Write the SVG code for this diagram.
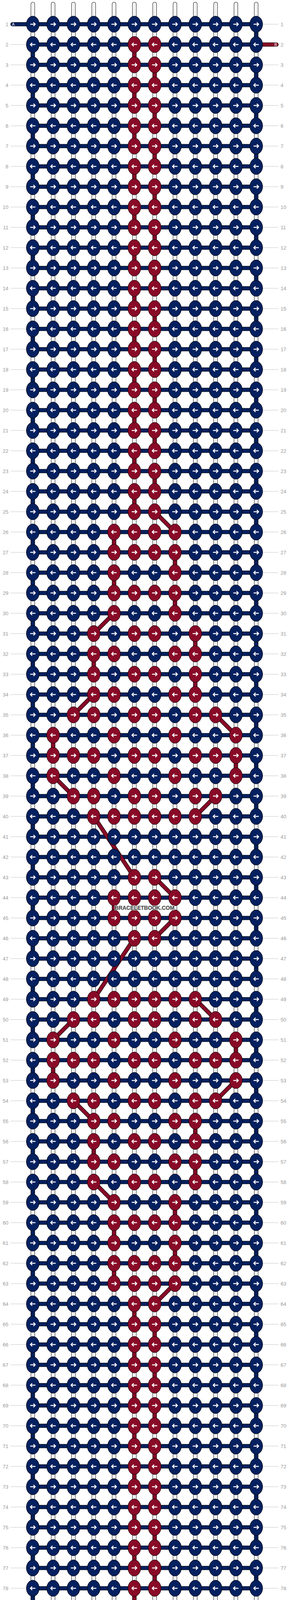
<svg xmlns="http://www.w3.org/2000/svg" width="740" height="4648" viewBox="0 0 740 4648">
<style>
.n{fill:#05205f}
.m{fill:#880a27}
.o{stroke:#000;stroke-width:10.6;fill:none;stroke-linecap:round}
.fn{stroke:#05205f;stroke-width:8.6;fill:none;stroke-linecap:round}
.fm{stroke:#880a27;stroke-width:8.6;fill:none;stroke-linecap:round}
.fw{stroke:#fff;stroke-width:8.6;fill:none;stroke-linecap:round}
.lb{font-family:"Liberation Sans",Arial,sans-serif;font-size:13px;fill:#999}
.le{text-anchor:end}
.tg{font-family:"Liberation Sans",Arial,sans-serif;font-size:10.5px;fill:#fff}
</style>
<defs>
<g id="R"><ellipse rx="16.5" ry="20.8" stroke="#000" stroke-width="1"/><path d="M-6.7,0H5.6M1.6,-4.6L6.2,0L1.6,4.6" fill="none" stroke="#fff" stroke-width="2.3"/></g>
<g id="L"><ellipse rx="16.5" ry="20.8" stroke="#000" stroke-width="1"/><path d="M6.7,0H-5.6M-1.6,-4.6L-6.2,0L-1.6,4.6" fill="none" stroke="#fff" stroke-width="2.3"/></g>
<path id="wp" d="M84,10.3V4637.7M136,10.3V4637.7M188,10.3V4637.7M240,10.3V4637.7M292,10.3V4637.7M344,10.3V4637.7M396,10.3V4637.7M448,10.3V4637.7M500,10.3V4637.7M552,10.3V4637.7M604,10.3V4637.7M656,10.3V4637.7"/>
<g id="va"><path d="M84,114V4586" stroke-dasharray="52 52"/><path d="M656,62V4586" stroke-dasharray="52 52"/></g>
<g id="vb"><path d="M344,114V1310" stroke-dasharray="52 52"/><path d="M396,166V1258" stroke-dasharray="52 52"/><path d="M344,3338V4534" stroke-dasharray="52 52"/><path d="M396,3390V4482" stroke-dasharray="52 52"/><path d="M292,1362V1414M448,1414V1466M292,1466V1518M448,1518V1570M500,1622V1674M240,1674V1726M500,1726V1778M136,1882V1934M604,1934V1986M292,2298V2350M604,2662V2714M136,2714V2766M500,2870V2922M240,2922V2974M500,2974V3026M448,3078V3130M292,3130V3182M448,3182V3234M292,3234V3286"/></g>
<path id="hz" d="M32,62H656M84,114H656M84,166H656M84,218H656M84,270H656M84,322H656M84,374H656M84,426H656M84,478H656M84,530H656M84,582H656M84,634H656M84,686H656M84,738H656M84,790H656M84,842H656M84,894H656M84,946H656M84,998H656M84,1050H656M84,1102H656M84,1154H656M84,1206H656M84,1258H656M84,1310H656M84,1362H656M84,1414H656M84,1466H656M84,1518H656M84,1570H656M84,1622H656M84,1674H656M84,1726H656M84,1778H656M84,1830H656M84,1882H656M84,1934H656M84,1986H656M84,2038H656M84,2090H656M84,2142H656M84,2194H656M84,2246H656M84,2298H656M84,2350H656M84,2402H656M84,2454H656M84,2506H656M84,2558H656M84,2610H656M84,2662H656M84,2714H656M84,2766H656M84,2818H656M84,2870H656M84,2922H656M84,2974H656M84,3026H656M84,3078H656M84,3130H656M84,3182H656M84,3234H656M84,3286H656M84,3338H656M84,3390H656M84,3442H656M84,3494H656M84,3546H656M84,3598H656M84,3650H656M84,3702H656M84,3754H656M84,3806H656M84,3858H656M84,3910H656M84,3962H656M84,4014H656M84,4066H656M84,4118H656M84,4170H656M84,4222H656M84,4274H656M84,4326H656M84,4378H656M84,4430H656M84,4482H656M84,4534H656M32,4586H656"/>
<path id="bt" d="M656,114H708M656,4534H708"/>
<path id="dg" d="M396,1310L448,1362M292,1570L240,1622M240,1778L188,1830M552,1830L604,1882M136,1986L188,2038M552,2038L500,2090M240,2090L344,2246M396,2246L448,2298M448,2350L396,2402M344,2402L240,2558M500,2558L552,2610M188,2610L136,2662M604,2766L552,2818M188,2818L240,2870M240,3026L292,3078M448,3286L396,3338"/>
</defs>
<rect width="740" height="4648" fill="#fff"/>
<g id="connectors">
<path d="M27,62H713M27,114H713M27,166H713M27,218H713M27,270H713M27,322H713M27,374H713M27,426H713M27,478H713M27,530H713M27,582H713M27,634H713M27,686H713M27,738H713M27,790H713M27,842H713M27,894H713M27,946H713M27,998H713M27,1050H713M27,1102H713M27,1154H713M27,1206H713M27,1258H713M27,1310H713M27,1362H713M27,1414H713M27,1466H713M27,1518H713M27,1570H713M27,1622H713M27,1674H713M27,1726H713M27,1778H713M27,1830H713M27,1882H713M27,1934H713M27,1986H713M27,2038H713M27,2090H713M27,2142H713M27,2194H713M27,2246H713M27,2298H713M27,2350H713M27,2402H713M27,2454H713M27,2506H713M27,2558H713M27,2610H713M27,2662H713M27,2714H713M27,2766H713M27,2818H713M27,2870H713M27,2922H713M27,2974H713M27,3026H713M27,3078H713M27,3130H713M27,3182H713M27,3234H713M27,3286H713M27,3338H713M27,3390H713M27,3442H713M27,3494H713M27,3546H713M27,3598H713M27,3650H713M27,3702H713M27,3754H713M27,3806H713M27,3858H713M27,3910H713M27,3962H713M27,4014H713M27,4066H713M27,4118H713M27,4170H713M27,4222H713M27,4274H713M27,4326H713M27,4378H713M27,4430H713M27,4482H713M27,4534H713M27,4586H713" stroke="#c4c4c4" stroke-width="1" fill="none"/>
<use href="#wp" class="o"/><use href="#wp" class="fw"/>
<path d="M84,9V4639M136,9V4639M188,9V4639M240,9V4639M292,9V4639M344,9V4639M396,9V4639M448,9V4639M500,9V4639M552,9V4639M604,9V4639M656,9V4639" stroke="#c8c8c8" stroke-width="1" fill="none"/>
<use href="#va" class="o"/><use href="#va" class="fn"/>
<use href="#vb" class="o"/><use href="#vb" class="fm"/>
<use href="#hz" class="o"/><use href="#hz" class="fn"/>
<use href="#bt" class="o"/><use href="#bt" class="fm"/>
<use href="#dg" class="o"/><use href="#dg" class="fm"/>
<text x="30.5" y="66" class="tg">A</text><text x="30.5" y="4590" class="tg">A</text>
<text x="702.6" y="118" class="tg">B</text><text x="702.6" y="4538" class="tg">B</text>
</g>
<g id="knots" class="n">
<g id="row1" transform="translate(0,62)"><use id="k1-0" href="#R" x="84"/><use id="k1-1" href="#R" x="136"/><use id="k1-2" href="#R" x="188"/><use id="k1-3" href="#R" x="240"/><use id="k1-4" href="#R" x="292"/><use id="k1-5" href="#R" x="344"/><use id="k1-6" href="#R" x="396"/><use id="k1-7" href="#R" x="448"/><use id="k1-8" href="#R" x="500"/><use id="k1-9" href="#R" x="552"/><use id="k1-10" href="#R" x="604"/><use id="k1-11" href="#R" x="656"/></g>
<g id="row2" transform="translate(0,114)"><use id="k2-0" href="#L" x="84"/><use id="k2-1" href="#L" x="136"/><use id="k2-2" href="#L" x="188"/><use id="k2-3" href="#L" x="240"/><use id="k2-4" href="#L" x="292"/><use id="k2-5" href="#L" x="344" class="m"/><use id="k2-6" href="#L" x="396" class="m"/><use id="k2-7" href="#L" x="448"/><use id="k2-8" href="#L" x="500"/><use id="k2-9" href="#L" x="552"/><use id="k2-10" href="#L" x="604"/><use id="k2-11" href="#L" x="656"/></g>
<g id="row3" transform="translate(0,166)"><use id="k3-0" href="#R" x="84"/><use id="k3-1" href="#R" x="136"/><use id="k3-2" href="#R" x="188"/><use id="k3-3" href="#R" x="240"/><use id="k3-4" href="#R" x="292"/><use id="k3-5" href="#R" x="344" class="m"/><use id="k3-6" href="#R" x="396" class="m"/><use id="k3-7" href="#R" x="448"/><use id="k3-8" href="#R" x="500"/><use id="k3-9" href="#R" x="552"/><use id="k3-10" href="#R" x="604"/><use id="k3-11" href="#R" x="656"/></g>
<g id="row4" transform="translate(0,218)"><use id="k4-0" href="#L" x="84"/><use id="k4-1" href="#L" x="136"/><use id="k4-2" href="#L" x="188"/><use id="k4-3" href="#L" x="240"/><use id="k4-4" href="#L" x="292"/><use id="k4-5" href="#L" x="344" class="m"/><use id="k4-6" href="#L" x="396" class="m"/><use id="k4-7" href="#L" x="448"/><use id="k4-8" href="#L" x="500"/><use id="k4-9" href="#L" x="552"/><use id="k4-10" href="#L" x="604"/><use id="k4-11" href="#L" x="656"/></g>
<g id="row5" transform="translate(0,270)"><use id="k5-0" href="#R" x="84"/><use id="k5-1" href="#R" x="136"/><use id="k5-2" href="#R" x="188"/><use id="k5-3" href="#R" x="240"/><use id="k5-4" href="#R" x="292"/><use id="k5-5" href="#R" x="344" class="m"/><use id="k5-6" href="#R" x="396" class="m"/><use id="k5-7" href="#R" x="448"/><use id="k5-8" href="#R" x="500"/><use id="k5-9" href="#R" x="552"/><use id="k5-10" href="#R" x="604"/><use id="k5-11" href="#R" x="656"/></g>
<g id="row6" transform="translate(0,322)"><use id="k6-0" href="#L" x="84"/><use id="k6-1" href="#L" x="136"/><use id="k6-2" href="#L" x="188"/><use id="k6-3" href="#L" x="240"/><use id="k6-4" href="#L" x="292"/><use id="k6-5" href="#L" x="344" class="m"/><use id="k6-6" href="#L" x="396" class="m"/><use id="k6-7" href="#L" x="448"/><use id="k6-8" href="#L" x="500"/><use id="k6-9" href="#L" x="552"/><use id="k6-10" href="#L" x="604"/><use id="k6-11" href="#L" x="656"/></g>
<g id="row7" transform="translate(0,374)"><use id="k7-0" href="#R" x="84"/><use id="k7-1" href="#R" x="136"/><use id="k7-2" href="#R" x="188"/><use id="k7-3" href="#R" x="240"/><use id="k7-4" href="#R" x="292"/><use id="k7-5" href="#R" x="344" class="m"/><use id="k7-6" href="#R" x="396" class="m"/><use id="k7-7" href="#R" x="448"/><use id="k7-8" href="#R" x="500"/><use id="k7-9" href="#R" x="552"/><use id="k7-10" href="#R" x="604"/><use id="k7-11" href="#R" x="656"/></g>
<g id="row8" transform="translate(0,426)"><use id="k8-0" href="#L" x="84"/><use id="k8-1" href="#L" x="136"/><use id="k8-2" href="#L" x="188"/><use id="k8-3" href="#L" x="240"/><use id="k8-4" href="#L" x="292"/><use id="k8-5" href="#L" x="344" class="m"/><use id="k8-6" href="#L" x="396" class="m"/><use id="k8-7" href="#L" x="448"/><use id="k8-8" href="#L" x="500"/><use id="k8-9" href="#L" x="552"/><use id="k8-10" href="#L" x="604"/><use id="k8-11" href="#L" x="656"/></g>
<g id="row9" transform="translate(0,478)"><use id="k9-0" href="#R" x="84"/><use id="k9-1" href="#R" x="136"/><use id="k9-2" href="#R" x="188"/><use id="k9-3" href="#R" x="240"/><use id="k9-4" href="#R" x="292"/><use id="k9-5" href="#R" x="344" class="m"/><use id="k9-6" href="#R" x="396" class="m"/><use id="k9-7" href="#R" x="448"/><use id="k9-8" href="#R" x="500"/><use id="k9-9" href="#R" x="552"/><use id="k9-10" href="#R" x="604"/><use id="k9-11" href="#R" x="656"/></g>
<g id="row10" transform="translate(0,530)"><use id="k10-0" href="#L" x="84"/><use id="k10-1" href="#L" x="136"/><use id="k10-2" href="#L" x="188"/><use id="k10-3" href="#L" x="240"/><use id="k10-4" href="#L" x="292"/><use id="k10-5" href="#L" x="344" class="m"/><use id="k10-6" href="#L" x="396" class="m"/><use id="k10-7" href="#L" x="448"/><use id="k10-8" href="#L" x="500"/><use id="k10-9" href="#L" x="552"/><use id="k10-10" href="#L" x="604"/><use id="k10-11" href="#L" x="656"/></g>
<g id="row11" transform="translate(0,582)"><use id="k11-0" href="#R" x="84"/><use id="k11-1" href="#R" x="136"/><use id="k11-2" href="#R" x="188"/><use id="k11-3" href="#R" x="240"/><use id="k11-4" href="#R" x="292"/><use id="k11-5" href="#R" x="344" class="m"/><use id="k11-6" href="#R" x="396" class="m"/><use id="k11-7" href="#R" x="448"/><use id="k11-8" href="#R" x="500"/><use id="k11-9" href="#R" x="552"/><use id="k11-10" href="#R" x="604"/><use id="k11-11" href="#R" x="656"/></g>
<g id="row12" transform="translate(0,634)"><use id="k12-0" href="#L" x="84"/><use id="k12-1" href="#L" x="136"/><use id="k12-2" href="#L" x="188"/><use id="k12-3" href="#L" x="240"/><use id="k12-4" href="#L" x="292"/><use id="k12-5" href="#L" x="344" class="m"/><use id="k12-6" href="#L" x="396" class="m"/><use id="k12-7" href="#L" x="448"/><use id="k12-8" href="#L" x="500"/><use id="k12-9" href="#L" x="552"/><use id="k12-10" href="#L" x="604"/><use id="k12-11" href="#L" x="656"/></g>
<g id="row13" transform="translate(0,686)"><use id="k13-0" href="#R" x="84"/><use id="k13-1" href="#R" x="136"/><use id="k13-2" href="#R" x="188"/><use id="k13-3" href="#R" x="240"/><use id="k13-4" href="#R" x="292"/><use id="k13-5" href="#R" x="344" class="m"/><use id="k13-6" href="#R" x="396" class="m"/><use id="k13-7" href="#R" x="448"/><use id="k13-8" href="#R" x="500"/><use id="k13-9" href="#R" x="552"/><use id="k13-10" href="#R" x="604"/><use id="k13-11" href="#R" x="656"/></g>
<g id="row14" transform="translate(0,738)"><use id="k14-0" href="#L" x="84"/><use id="k14-1" href="#L" x="136"/><use id="k14-2" href="#L" x="188"/><use id="k14-3" href="#L" x="240"/><use id="k14-4" href="#L" x="292"/><use id="k14-5" href="#L" x="344" class="m"/><use id="k14-6" href="#L" x="396" class="m"/><use id="k14-7" href="#L" x="448"/><use id="k14-8" href="#L" x="500"/><use id="k14-9" href="#L" x="552"/><use id="k14-10" href="#L" x="604"/><use id="k14-11" href="#L" x="656"/></g>
<g id="row15" transform="translate(0,790)"><use id="k15-0" href="#R" x="84"/><use id="k15-1" href="#R" x="136"/><use id="k15-2" href="#R" x="188"/><use id="k15-3" href="#R" x="240"/><use id="k15-4" href="#R" x="292"/><use id="k15-5" href="#R" x="344" class="m"/><use id="k15-6" href="#R" x="396" class="m"/><use id="k15-7" href="#R" x="448"/><use id="k15-8" href="#R" x="500"/><use id="k15-9" href="#R" x="552"/><use id="k15-10" href="#R" x="604"/><use id="k15-11" href="#R" x="656"/></g>
<g id="row16" transform="translate(0,842)"><use id="k16-0" href="#L" x="84"/><use id="k16-1" href="#L" x="136"/><use id="k16-2" href="#L" x="188"/><use id="k16-3" href="#L" x="240"/><use id="k16-4" href="#L" x="292"/><use id="k16-5" href="#L" x="344" class="m"/><use id="k16-6" href="#L" x="396" class="m"/><use id="k16-7" href="#L" x="448"/><use id="k16-8" href="#L" x="500"/><use id="k16-9" href="#L" x="552"/><use id="k16-10" href="#L" x="604"/><use id="k16-11" href="#L" x="656"/></g>
<g id="row17" transform="translate(0,894)"><use id="k17-0" href="#R" x="84"/><use id="k17-1" href="#R" x="136"/><use id="k17-2" href="#R" x="188"/><use id="k17-3" href="#R" x="240"/><use id="k17-4" href="#R" x="292"/><use id="k17-5" href="#R" x="344" class="m"/><use id="k17-6" href="#R" x="396" class="m"/><use id="k17-7" href="#R" x="448"/><use id="k17-8" href="#R" x="500"/><use id="k17-9" href="#R" x="552"/><use id="k17-10" href="#R" x="604"/><use id="k17-11" href="#R" x="656"/></g>
<g id="row18" transform="translate(0,946)"><use id="k18-0" href="#L" x="84"/><use id="k18-1" href="#L" x="136"/><use id="k18-2" href="#L" x="188"/><use id="k18-3" href="#L" x="240"/><use id="k18-4" href="#L" x="292"/><use id="k18-5" href="#L" x="344" class="m"/><use id="k18-6" href="#L" x="396" class="m"/><use id="k18-7" href="#L" x="448"/><use id="k18-8" href="#L" x="500"/><use id="k18-9" href="#L" x="552"/><use id="k18-10" href="#L" x="604"/><use id="k18-11" href="#L" x="656"/></g>
<g id="row19" transform="translate(0,998)"><use id="k19-0" href="#R" x="84"/><use id="k19-1" href="#R" x="136"/><use id="k19-2" href="#R" x="188"/><use id="k19-3" href="#R" x="240"/><use id="k19-4" href="#R" x="292"/><use id="k19-5" href="#R" x="344" class="m"/><use id="k19-6" href="#R" x="396" class="m"/><use id="k19-7" href="#R" x="448"/><use id="k19-8" href="#R" x="500"/><use id="k19-9" href="#R" x="552"/><use id="k19-10" href="#R" x="604"/><use id="k19-11" href="#R" x="656"/></g>
<g id="row20" transform="translate(0,1050)"><use id="k20-0" href="#L" x="84"/><use id="k20-1" href="#L" x="136"/><use id="k20-2" href="#L" x="188"/><use id="k20-3" href="#L" x="240"/><use id="k20-4" href="#L" x="292"/><use id="k20-5" href="#L" x="344" class="m"/><use id="k20-6" href="#L" x="396" class="m"/><use id="k20-7" href="#L" x="448"/><use id="k20-8" href="#L" x="500"/><use id="k20-9" href="#L" x="552"/><use id="k20-10" href="#L" x="604"/><use id="k20-11" href="#L" x="656"/></g>
<g id="row21" transform="translate(0,1102)"><use id="k21-0" href="#R" x="84"/><use id="k21-1" href="#R" x="136"/><use id="k21-2" href="#R" x="188"/><use id="k21-3" href="#R" x="240"/><use id="k21-4" href="#R" x="292"/><use id="k21-5" href="#R" x="344" class="m"/><use id="k21-6" href="#R" x="396" class="m"/><use id="k21-7" href="#R" x="448"/><use id="k21-8" href="#R" x="500"/><use id="k21-9" href="#R" x="552"/><use id="k21-10" href="#R" x="604"/><use id="k21-11" href="#R" x="656"/></g>
<g id="row22" transform="translate(0,1154)"><use id="k22-0" href="#L" x="84"/><use id="k22-1" href="#L" x="136"/><use id="k22-2" href="#L" x="188"/><use id="k22-3" href="#L" x="240"/><use id="k22-4" href="#L" x="292"/><use id="k22-5" href="#L" x="344" class="m"/><use id="k22-6" href="#L" x="396" class="m"/><use id="k22-7" href="#L" x="448"/><use id="k22-8" href="#L" x="500"/><use id="k22-9" href="#L" x="552"/><use id="k22-10" href="#L" x="604"/><use id="k22-11" href="#L" x="656"/></g>
<g id="row23" transform="translate(0,1206)"><use id="k23-0" href="#R" x="84"/><use id="k23-1" href="#R" x="136"/><use id="k23-2" href="#R" x="188"/><use id="k23-3" href="#R" x="240"/><use id="k23-4" href="#R" x="292"/><use id="k23-5" href="#R" x="344" class="m"/><use id="k23-6" href="#R" x="396" class="m"/><use id="k23-7" href="#R" x="448"/><use id="k23-8" href="#R" x="500"/><use id="k23-9" href="#R" x="552"/><use id="k23-10" href="#R" x="604"/><use id="k23-11" href="#R" x="656"/></g>
<g id="row24" transform="translate(0,1258)"><use id="k24-0" href="#L" x="84"/><use id="k24-1" href="#L" x="136"/><use id="k24-2" href="#L" x="188"/><use id="k24-3" href="#L" x="240"/><use id="k24-4" href="#L" x="292"/><use id="k24-5" href="#L" x="344" class="m"/><use id="k24-6" href="#L" x="396" class="m"/><use id="k24-7" href="#L" x="448"/><use id="k24-8" href="#L" x="500"/><use id="k24-9" href="#L" x="552"/><use id="k24-10" href="#L" x="604"/><use id="k24-11" href="#L" x="656"/></g>
<g id="row25" transform="translate(0,1310)"><use id="k25-0" href="#R" x="84"/><use id="k25-1" href="#R" x="136"/><use id="k25-2" href="#R" x="188"/><use id="k25-3" href="#R" x="240"/><use id="k25-4" href="#R" x="292"/><use id="k25-5" href="#R" x="344" class="m"/><use id="k25-6" href="#R" x="396" class="m"/><use id="k25-7" href="#R" x="448"/><use id="k25-8" href="#R" x="500"/><use id="k25-9" href="#R" x="552"/><use id="k25-10" href="#R" x="604"/><use id="k25-11" href="#R" x="656"/></g>
<g id="row26" transform="translate(0,1362)"><use id="k26-0" href="#L" x="84"/><use id="k26-1" href="#L" x="136"/><use id="k26-2" href="#L" x="188"/><use id="k26-3" href="#L" x="240"/><use id="k26-4" href="#L" x="292" class="m"/><use id="k26-5" href="#L" x="344" class="m"/><use id="k26-6" href="#L" x="396" class="m"/><use id="k26-7" href="#L" x="448" class="m"/><use id="k26-8" href="#L" x="500"/><use id="k26-9" href="#L" x="552"/><use id="k26-10" href="#L" x="604"/><use id="k26-11" href="#L" x="656"/></g>
<g id="row27" transform="translate(0,1414)"><use id="k27-0" href="#R" x="84"/><use id="k27-1" href="#R" x="136"/><use id="k27-2" href="#R" x="188"/><use id="k27-3" href="#R" x="240"/><use id="k27-4" href="#R" x="292" class="m"/><use id="k27-5" href="#R" x="344" class="m"/><use id="k27-6" href="#R" x="396" class="m"/><use id="k27-7" href="#R" x="448" class="m"/><use id="k27-8" href="#R" x="500"/><use id="k27-9" href="#R" x="552"/><use id="k27-10" href="#R" x="604"/><use id="k27-11" href="#R" x="656"/></g>
<g id="row28" transform="translate(0,1466)"><use id="k28-0" href="#L" x="84"/><use id="k28-1" href="#L" x="136"/><use id="k28-2" href="#L" x="188"/><use id="k28-3" href="#L" x="240"/><use id="k28-4" href="#L" x="292" class="m"/><use id="k28-5" href="#L" x="344"/><use id="k28-6" href="#L" x="396"/><use id="k28-7" href="#L" x="448" class="m"/><use id="k28-8" href="#L" x="500"/><use id="k28-9" href="#L" x="552"/><use id="k28-10" href="#L" x="604"/><use id="k28-11" href="#L" x="656"/></g>
<g id="row29" transform="translate(0,1518)"><use id="k29-0" href="#R" x="84"/><use id="k29-1" href="#R" x="136"/><use id="k29-2" href="#R" x="188"/><use id="k29-3" href="#R" x="240"/><use id="k29-4" href="#R" x="292" class="m"/><use id="k29-5" href="#R" x="344" class="m"/><use id="k29-6" href="#R" x="396" class="m"/><use id="k29-7" href="#R" x="448" class="m"/><use id="k29-8" href="#R" x="500"/><use id="k29-9" href="#R" x="552"/><use id="k29-10" href="#R" x="604"/><use id="k29-11" href="#R" x="656"/></g>
<g id="row30" transform="translate(0,1570)"><use id="k30-0" href="#L" x="84"/><use id="k30-1" href="#L" x="136"/><use id="k30-2" href="#L" x="188"/><use id="k30-3" href="#L" x="240"/><use id="k30-4" href="#L" x="292" class="m"/><use id="k30-5" href="#L" x="344"/><use id="k30-6" href="#L" x="396"/><use id="k30-7" href="#L" x="448" class="m"/><use id="k30-8" href="#L" x="500"/><use id="k30-9" href="#L" x="552"/><use id="k30-10" href="#L" x="604"/><use id="k30-11" href="#L" x="656"/></g>
<g id="row31" transform="translate(0,1622)"><use id="k31-0" href="#R" x="84"/><use id="k31-1" href="#R" x="136"/><use id="k31-2" href="#R" x="188"/><use id="k31-3" href="#R" x="240" class="m"/><use id="k31-4" href="#R" x="292"/><use id="k31-5" href="#R" x="344" class="m"/><use id="k31-6" href="#R" x="396" class="m"/><use id="k31-7" href="#R" x="448"/><use id="k31-8" href="#R" x="500" class="m"/><use id="k31-9" href="#R" x="552"/><use id="k31-10" href="#R" x="604"/><use id="k31-11" href="#R" x="656"/></g>
<g id="row32" transform="translate(0,1674)"><use id="k32-0" href="#L" x="84"/><use id="k32-1" href="#L" x="136"/><use id="k32-2" href="#L" x="188"/><use id="k32-3" href="#L" x="240" class="m"/><use id="k32-4" href="#L" x="292" class="m"/><use id="k32-5" href="#L" x="344"/><use id="k32-6" href="#L" x="396"/><use id="k32-7" href="#L" x="448" class="m"/><use id="k32-8" href="#L" x="500" class="m"/><use id="k32-9" href="#L" x="552"/><use id="k32-10" href="#L" x="604"/><use id="k32-11" href="#L" x="656"/></g>
<g id="row33" transform="translate(0,1726)"><use id="k33-0" href="#R" x="84"/><use id="k33-1" href="#R" x="136"/><use id="k33-2" href="#R" x="188"/><use id="k33-3" href="#R" x="240" class="m"/><use id="k33-4" href="#R" x="292"/><use id="k33-5" href="#R" x="344" class="m"/><use id="k33-6" href="#R" x="396" class="m"/><use id="k33-7" href="#R" x="448"/><use id="k33-8" href="#R" x="500" class="m"/><use id="k33-9" href="#R" x="552"/><use id="k33-10" href="#R" x="604"/><use id="k33-11" href="#R" x="656"/></g>
<g id="row34" transform="translate(0,1778)"><use id="k34-0" href="#L" x="84"/><use id="k34-1" href="#L" x="136"/><use id="k34-2" href="#L" x="188"/><use id="k34-3" href="#L" x="240" class="m"/><use id="k34-4" href="#L" x="292" class="m"/><use id="k34-5" href="#L" x="344"/><use id="k34-6" href="#L" x="396"/><use id="k34-7" href="#L" x="448" class="m"/><use id="k34-8" href="#L" x="500" class="m"/><use id="k34-9" href="#L" x="552"/><use id="k34-10" href="#L" x="604"/><use id="k34-11" href="#L" x="656"/></g>
<g id="row35" transform="translate(0,1830)"><use id="k35-0" href="#R" x="84"/><use id="k35-1" href="#R" x="136"/><use id="k35-2" href="#R" x="188" class="m"/><use id="k35-3" href="#R" x="240" class="m"/><use id="k35-4" href="#R" x="292"/><use id="k35-5" href="#R" x="344" class="m"/><use id="k35-6" href="#R" x="396" class="m"/><use id="k35-7" href="#R" x="448"/><use id="k35-8" href="#R" x="500" class="m"/><use id="k35-9" href="#R" x="552" class="m"/><use id="k35-10" href="#R" x="604"/><use id="k35-11" href="#R" x="656"/></g>
<g id="row36" transform="translate(0,1882)"><use id="k36-0" href="#L" x="84"/><use id="k36-1" href="#L" x="136" class="m"/><use id="k36-2" href="#L" x="188"/><use id="k36-3" href="#L" x="240"/><use id="k36-4" href="#L" x="292" class="m"/><use id="k36-5" href="#L" x="344"/><use id="k36-6" href="#L" x="396"/><use id="k36-7" href="#L" x="448" class="m"/><use id="k36-8" href="#L" x="500"/><use id="k36-9" href="#L" x="552"/><use id="k36-10" href="#L" x="604" class="m"/><use id="k36-11" href="#L" x="656"/></g>
<g id="row37" transform="translate(0,1934)"><use id="k37-0" href="#R" x="84"/><use id="k37-1" href="#R" x="136" class="m"/><use id="k37-2" href="#R" x="188" class="m"/><use id="k37-3" href="#R" x="240" class="m"/><use id="k37-4" href="#R" x="292"/><use id="k37-5" href="#R" x="344" class="m"/><use id="k37-6" href="#R" x="396" class="m"/><use id="k37-7" href="#R" x="448"/><use id="k37-8" href="#R" x="500" class="m"/><use id="k37-9" href="#R" x="552" class="m"/><use id="k37-10" href="#R" x="604" class="m"/><use id="k37-11" href="#R" x="656"/></g>
<g id="row38" transform="translate(0,1986)"><use id="k38-0" href="#L" x="84"/><use id="k38-1" href="#L" x="136" class="m"/><use id="k38-2" href="#L" x="188"/><use id="k38-3" href="#L" x="240"/><use id="k38-4" href="#L" x="292" class="m"/><use id="k38-5" href="#L" x="344"/><use id="k38-6" href="#L" x="396"/><use id="k38-7" href="#L" x="448" class="m"/><use id="k38-8" href="#L" x="500"/><use id="k38-9" href="#L" x="552"/><use id="k38-10" href="#L" x="604" class="m"/><use id="k38-11" href="#L" x="656"/></g>
<g id="row39" transform="translate(0,2038)"><use id="k39-0" href="#R" x="84"/><use id="k39-1" href="#R" x="136"/><use id="k39-2" href="#R" x="188" class="m"/><use id="k39-3" href="#R" x="240" class="m"/><use id="k39-4" href="#R" x="292"/><use id="k39-5" href="#R" x="344" class="m"/><use id="k39-6" href="#R" x="396" class="m"/><use id="k39-7" href="#R" x="448"/><use id="k39-8" href="#R" x="500" class="m"/><use id="k39-9" href="#R" x="552" class="m"/><use id="k39-10" href="#R" x="604"/><use id="k39-11" href="#R" x="656"/></g>
<g id="row40" transform="translate(0,2090)"><use id="k40-0" href="#L" x="84"/><use id="k40-1" href="#L" x="136"/><use id="k40-2" href="#L" x="188"/><use id="k40-3" href="#L" x="240" class="m"/><use id="k40-4" href="#L" x="292" class="m"/><use id="k40-5" href="#L" x="344" class="m"/><use id="k40-6" href="#L" x="396" class="m"/><use id="k40-7" href="#L" x="448" class="m"/><use id="k40-8" href="#L" x="500" class="m"/><use id="k40-9" href="#L" x="552"/><use id="k40-10" href="#L" x="604"/><use id="k40-11" href="#L" x="656"/></g>
<g id="row41" transform="translate(0,2142)"><use id="k41-0" href="#R" x="84"/><use id="k41-1" href="#R" x="136"/><use id="k41-2" href="#R" x="188"/><use id="k41-3" href="#R" x="240"/><use id="k41-4" href="#R" x="292"/><use id="k41-5" href="#R" x="344"/><use id="k41-6" href="#R" x="396"/><use id="k41-7" href="#R" x="448"/><use id="k41-8" href="#R" x="500"/><use id="k41-9" href="#R" x="552"/><use id="k41-10" href="#R" x="604"/><use id="k41-11" href="#R" x="656"/></g>
<g id="row42" transform="translate(0,2194)"><use id="k42-0" href="#L" x="84"/><use id="k42-1" href="#L" x="136"/><use id="k42-2" href="#L" x="188"/><use id="k42-3" href="#L" x="240"/><use id="k42-4" href="#L" x="292"/><use id="k42-5" href="#L" x="344"/><use id="k42-6" href="#L" x="396"/><use id="k42-7" href="#L" x="448"/><use id="k42-8" href="#L" x="500"/><use id="k42-9" href="#L" x="552"/><use id="k42-10" href="#L" x="604"/><use id="k42-11" href="#L" x="656"/></g>
<g id="row43" transform="translate(0,2246)"><use id="k43-0" href="#R" x="84"/><use id="k43-1" href="#R" x="136"/><use id="k43-2" href="#R" x="188"/><use id="k43-3" href="#R" x="240"/><use id="k43-4" href="#R" x="292"/><use id="k43-5" href="#R" x="344" class="m"/><use id="k43-6" href="#R" x="396" class="m"/><use id="k43-7" href="#R" x="448"/><use id="k43-8" href="#R" x="500"/><use id="k43-9" href="#R" x="552"/><use id="k43-10" href="#R" x="604"/><use id="k43-11" href="#R" x="656"/></g>
<g id="row44" transform="translate(0,2298)"><use id="k44-0" href="#L" x="84"/><use id="k44-1" href="#L" x="136"/><use id="k44-2" href="#L" x="188"/><use id="k44-3" href="#L" x="240"/><use id="k44-4" href="#L" x="292" class="m"/><use id="k44-5" href="#L" x="344" class="m"/><use id="k44-6" href="#L" x="396" class="m"/><use id="k44-7" href="#L" x="448" class="m"/><use id="k44-8" href="#L" x="500"/><use id="k44-9" href="#L" x="552"/><use id="k44-10" href="#L" x="604"/><use id="k44-11" href="#L" x="656"/></g>
<g id="row45" transform="translate(0,2350)"><use id="k45-0" href="#R" x="84"/><use id="k45-1" href="#R" x="136"/><use id="k45-2" href="#R" x="188"/><use id="k45-3" href="#R" x="240"/><use id="k45-4" href="#R" x="292" class="m"/><use id="k45-5" href="#R" x="344" class="m"/><use id="k45-6" href="#R" x="396" class="m"/><use id="k45-7" href="#R" x="448" class="m"/><use id="k45-8" href="#R" x="500"/><use id="k45-9" href="#R" x="552"/><use id="k45-10" href="#R" x="604"/><use id="k45-11" href="#R" x="656"/></g>
<g id="row46" transform="translate(0,2402)"><use id="k46-0" href="#L" x="84"/><use id="k46-1" href="#L" x="136"/><use id="k46-2" href="#L" x="188"/><use id="k46-3" href="#L" x="240"/><use id="k46-4" href="#L" x="292"/><use id="k46-5" href="#L" x="344" class="m"/><use id="k46-6" href="#L" x="396" class="m"/><use id="k46-7" href="#L" x="448"/><use id="k46-8" href="#L" x="500"/><use id="k46-9" href="#L" x="552"/><use id="k46-10" href="#L" x="604"/><use id="k46-11" href="#L" x="656"/></g>
<g id="row47" transform="translate(0,2454)"><use id="k47-0" href="#R" x="84"/><use id="k47-1" href="#R" x="136"/><use id="k47-2" href="#R" x="188"/><use id="k47-3" href="#R" x="240"/><use id="k47-4" href="#R" x="292"/><use id="k47-5" href="#R" x="344"/><use id="k47-6" href="#R" x="396"/><use id="k47-7" href="#R" x="448"/><use id="k47-8" href="#R" x="500"/><use id="k47-9" href="#R" x="552"/><use id="k47-10" href="#R" x="604"/><use id="k47-11" href="#R" x="656"/></g>
<g id="row48" transform="translate(0,2506)"><use id="k48-0" href="#L" x="84"/><use id="k48-1" href="#L" x="136"/><use id="k48-2" href="#L" x="188"/><use id="k48-3" href="#L" x="240"/><use id="k48-4" href="#L" x="292"/><use id="k48-5" href="#L" x="344"/><use id="k48-6" href="#L" x="396"/><use id="k48-7" href="#L" x="448"/><use id="k48-8" href="#L" x="500"/><use id="k48-9" href="#L" x="552"/><use id="k48-10" href="#L" x="604"/><use id="k48-11" href="#L" x="656"/></g>
<g id="row49" transform="translate(0,2558)"><use id="k49-0" href="#R" x="84"/><use id="k49-1" href="#R" x="136"/><use id="k49-2" href="#R" x="188"/><use id="k49-3" href="#R" x="240" class="m"/><use id="k49-4" href="#R" x="292" class="m"/><use id="k49-5" href="#R" x="344" class="m"/><use id="k49-6" href="#R" x="396" class="m"/><use id="k49-7" href="#R" x="448" class="m"/><use id="k49-8" href="#R" x="500" class="m"/><use id="k49-9" href="#R" x="552"/><use id="k49-10" href="#R" x="604"/><use id="k49-11" href="#R" x="656"/></g>
<g id="row50" transform="translate(0,2610)"><use id="k50-0" href="#L" x="84"/><use id="k50-1" href="#L" x="136"/><use id="k50-2" href="#L" x="188" class="m"/><use id="k50-3" href="#L" x="240" class="m"/><use id="k50-4" href="#L" x="292"/><use id="k50-5" href="#L" x="344" class="m"/><use id="k50-6" href="#L" x="396" class="m"/><use id="k50-7" href="#L" x="448"/><use id="k50-8" href="#L" x="500" class="m"/><use id="k50-9" href="#L" x="552" class="m"/><use id="k50-10" href="#L" x="604"/><use id="k50-11" href="#L" x="656"/></g>
<g id="row51" transform="translate(0,2662)"><use id="k51-0" href="#R" x="84"/><use id="k51-1" href="#R" x="136" class="m"/><use id="k51-2" href="#R" x="188"/><use id="k51-3" href="#R" x="240"/><use id="k51-4" href="#R" x="292" class="m"/><use id="k51-5" href="#R" x="344"/><use id="k51-6" href="#R" x="396"/><use id="k51-7" href="#R" x="448" class="m"/><use id="k51-8" href="#R" x="500"/><use id="k51-9" href="#R" x="552"/><use id="k51-10" href="#R" x="604" class="m"/><use id="k51-11" href="#R" x="656"/></g>
<g id="row52" transform="translate(0,2714)"><use id="k52-0" href="#L" x="84"/><use id="k52-1" href="#L" x="136" class="m"/><use id="k52-2" href="#L" x="188" class="m"/><use id="k52-3" href="#L" x="240" class="m"/><use id="k52-4" href="#L" x="292"/><use id="k52-5" href="#L" x="344" class="m"/><use id="k52-6" href="#L" x="396" class="m"/><use id="k52-7" href="#L" x="448"/><use id="k52-8" href="#L" x="500" class="m"/><use id="k52-9" href="#L" x="552" class="m"/><use id="k52-10" href="#L" x="604" class="m"/><use id="k52-11" href="#L" x="656"/></g>
<g id="row53" transform="translate(0,2766)"><use id="k53-0" href="#R" x="84"/><use id="k53-1" href="#R" x="136" class="m"/><use id="k53-2" href="#R" x="188"/><use id="k53-3" href="#R" x="240"/><use id="k53-4" href="#R" x="292" class="m"/><use id="k53-5" href="#R" x="344"/><use id="k53-6" href="#R" x="396"/><use id="k53-7" href="#R" x="448" class="m"/><use id="k53-8" href="#R" x="500"/><use id="k53-9" href="#R" x="552"/><use id="k53-10" href="#R" x="604" class="m"/><use id="k53-11" href="#R" x="656"/></g>
<g id="row54" transform="translate(0,2818)"><use id="k54-0" href="#L" x="84"/><use id="k54-1" href="#L" x="136"/><use id="k54-2" href="#L" x="188" class="m"/><use id="k54-3" href="#L" x="240" class="m"/><use id="k54-4" href="#L" x="292"/><use id="k54-5" href="#L" x="344" class="m"/><use id="k54-6" href="#L" x="396" class="m"/><use id="k54-7" href="#L" x="448"/><use id="k54-8" href="#L" x="500" class="m"/><use id="k54-9" href="#L" x="552" class="m"/><use id="k54-10" href="#L" x="604"/><use id="k54-11" href="#L" x="656"/></g>
<g id="row55" transform="translate(0,2870)"><use id="k55-0" href="#R" x="84"/><use id="k55-1" href="#R" x="136"/><use id="k55-2" href="#R" x="188"/><use id="k55-3" href="#R" x="240" class="m"/><use id="k55-4" href="#R" x="292" class="m"/><use id="k55-5" href="#R" x="344"/><use id="k55-6" href="#R" x="396"/><use id="k55-7" href="#R" x="448" class="m"/><use id="k55-8" href="#R" x="500" class="m"/><use id="k55-9" href="#R" x="552"/><use id="k55-10" href="#R" x="604"/><use id="k55-11" href="#R" x="656"/></g>
<g id="row56" transform="translate(0,2922)"><use id="k56-0" href="#L" x="84"/><use id="k56-1" href="#L" x="136"/><use id="k56-2" href="#L" x="188"/><use id="k56-3" href="#L" x="240" class="m"/><use id="k56-4" href="#L" x="292"/><use id="k56-5" href="#L" x="344" class="m"/><use id="k56-6" href="#L" x="396" class="m"/><use id="k56-7" href="#L" x="448"/><use id="k56-8" href="#L" x="500" class="m"/><use id="k56-9" href="#L" x="552"/><use id="k56-10" href="#L" x="604"/><use id="k56-11" href="#L" x="656"/></g>
<g id="row57" transform="translate(0,2974)"><use id="k57-0" href="#R" x="84"/><use id="k57-1" href="#R" x="136"/><use id="k57-2" href="#R" x="188"/><use id="k57-3" href="#R" x="240" class="m"/><use id="k57-4" href="#R" x="292" class="m"/><use id="k57-5" href="#R" x="344"/><use id="k57-6" href="#R" x="396"/><use id="k57-7" href="#R" x="448" class="m"/><use id="k57-8" href="#R" x="500" class="m"/><use id="k57-9" href="#R" x="552"/><use id="k57-10" href="#R" x="604"/><use id="k57-11" href="#R" x="656"/></g>
<g id="row58" transform="translate(0,3026)"><use id="k58-0" href="#L" x="84"/><use id="k58-1" href="#L" x="136"/><use id="k58-2" href="#L" x="188"/><use id="k58-3" href="#L" x="240" class="m"/><use id="k58-4" href="#L" x="292"/><use id="k58-5" href="#L" x="344" class="m"/><use id="k58-6" href="#L" x="396" class="m"/><use id="k58-7" href="#L" x="448"/><use id="k58-8" href="#L" x="500" class="m"/><use id="k58-9" href="#L" x="552"/><use id="k58-10" href="#L" x="604"/><use id="k58-11" href="#L" x="656"/></g>
<g id="row59" transform="translate(0,3078)"><use id="k59-0" href="#R" x="84"/><use id="k59-1" href="#R" x="136"/><use id="k59-2" href="#R" x="188"/><use id="k59-3" href="#R" x="240"/><use id="k59-4" href="#R" x="292" class="m"/><use id="k59-5" href="#R" x="344"/><use id="k59-6" href="#R" x="396"/><use id="k59-7" href="#R" x="448" class="m"/><use id="k59-8" href="#R" x="500"/><use id="k59-9" href="#R" x="552"/><use id="k59-10" href="#R" x="604"/><use id="k59-11" href="#R" x="656"/></g>
<g id="row60" transform="translate(0,3130)"><use id="k60-0" href="#L" x="84"/><use id="k60-1" href="#L" x="136"/><use id="k60-2" href="#L" x="188"/><use id="k60-3" href="#L" x="240"/><use id="k60-4" href="#L" x="292" class="m"/><use id="k60-5" href="#L" x="344" class="m"/><use id="k60-6" href="#L" x="396" class="m"/><use id="k60-7" href="#L" x="448" class="m"/><use id="k60-8" href="#L" x="500"/><use id="k60-9" href="#L" x="552"/><use id="k60-10" href="#L" x="604"/><use id="k60-11" href="#L" x="656"/></g>
<g id="row61" transform="translate(0,3182)"><use id="k61-0" href="#R" x="84"/><use id="k61-1" href="#R" x="136"/><use id="k61-2" href="#R" x="188"/><use id="k61-3" href="#R" x="240"/><use id="k61-4" href="#R" x="292" class="m"/><use id="k61-5" href="#R" x="344"/><use id="k61-6" href="#R" x="396"/><use id="k61-7" href="#R" x="448" class="m"/><use id="k61-8" href="#R" x="500"/><use id="k61-9" href="#R" x="552"/><use id="k61-10" href="#R" x="604"/><use id="k61-11" href="#R" x="656"/></g>
<g id="row62" transform="translate(0,3234)"><use id="k62-0" href="#L" x="84"/><use id="k62-1" href="#L" x="136"/><use id="k62-2" href="#L" x="188"/><use id="k62-3" href="#L" x="240"/><use id="k62-4" href="#L" x="292" class="m"/><use id="k62-5" href="#L" x="344" class="m"/><use id="k62-6" href="#L" x="396" class="m"/><use id="k62-7" href="#L" x="448" class="m"/><use id="k62-8" href="#L" x="500"/><use id="k62-9" href="#L" x="552"/><use id="k62-10" href="#L" x="604"/><use id="k62-11" href="#L" x="656"/></g>
<g id="row63" transform="translate(0,3286)"><use id="k63-0" href="#R" x="84"/><use id="k63-1" href="#R" x="136"/><use id="k63-2" href="#R" x="188"/><use id="k63-3" href="#R" x="240"/><use id="k63-4" href="#R" x="292" class="m"/><use id="k63-5" href="#R" x="344" class="m"/><use id="k63-6" href="#R" x="396" class="m"/><use id="k63-7" href="#R" x="448" class="m"/><use id="k63-8" href="#R" x="500"/><use id="k63-9" href="#R" x="552"/><use id="k63-10" href="#R" x="604"/><use id="k63-11" href="#R" x="656"/></g>
<g id="row64" transform="translate(0,3338)"><use id="k64-0" href="#L" x="84"/><use id="k64-1" href="#L" x="136"/><use id="k64-2" href="#L" x="188"/><use id="k64-3" href="#L" x="240"/><use id="k64-4" href="#L" x="292"/><use id="k64-5" href="#L" x="344" class="m"/><use id="k64-6" href="#L" x="396" class="m"/><use id="k64-7" href="#L" x="448"/><use id="k64-8" href="#L" x="500"/><use id="k64-9" href="#L" x="552"/><use id="k64-10" href="#L" x="604"/><use id="k64-11" href="#L" x="656"/></g>
<g id="row65" transform="translate(0,3390)"><use id="k65-0" href="#R" x="84"/><use id="k65-1" href="#R" x="136"/><use id="k65-2" href="#R" x="188"/><use id="k65-3" href="#R" x="240"/><use id="k65-4" href="#R" x="292"/><use id="k65-5" href="#R" x="344" class="m"/><use id="k65-6" href="#R" x="396" class="m"/><use id="k65-7" href="#R" x="448"/><use id="k65-8" href="#R" x="500"/><use id="k65-9" href="#R" x="552"/><use id="k65-10" href="#R" x="604"/><use id="k65-11" href="#R" x="656"/></g>
<g id="row66" transform="translate(0,3442)"><use id="k66-0" href="#L" x="84"/><use id="k66-1" href="#L" x="136"/><use id="k66-2" href="#L" x="188"/><use id="k66-3" href="#L" x="240"/><use id="k66-4" href="#L" x="292"/><use id="k66-5" href="#L" x="344" class="m"/><use id="k66-6" href="#L" x="396" class="m"/><use id="k66-7" href="#L" x="448"/><use id="k66-8" href="#L" x="500"/><use id="k66-9" href="#L" x="552"/><use id="k66-10" href="#L" x="604"/><use id="k66-11" href="#L" x="656"/></g>
<g id="row67" transform="translate(0,3494)"><use id="k67-0" href="#R" x="84"/><use id="k67-1" href="#R" x="136"/><use id="k67-2" href="#R" x="188"/><use id="k67-3" href="#R" x="240"/><use id="k67-4" href="#R" x="292"/><use id="k67-5" href="#R" x="344" class="m"/><use id="k67-6" href="#R" x="396" class="m"/><use id="k67-7" href="#R" x="448"/><use id="k67-8" href="#R" x="500"/><use id="k67-9" href="#R" x="552"/><use id="k67-10" href="#R" x="604"/><use id="k67-11" href="#R" x="656"/></g>
<g id="row68" transform="translate(0,3546)"><use id="k68-0" href="#L" x="84"/><use id="k68-1" href="#L" x="136"/><use id="k68-2" href="#L" x="188"/><use id="k68-3" href="#L" x="240"/><use id="k68-4" href="#L" x="292"/><use id="k68-5" href="#L" x="344" class="m"/><use id="k68-6" href="#L" x="396" class="m"/><use id="k68-7" href="#L" x="448"/><use id="k68-8" href="#L" x="500"/><use id="k68-9" href="#L" x="552"/><use id="k68-10" href="#L" x="604"/><use id="k68-11" href="#L" x="656"/></g>
<g id="row69" transform="translate(0,3598)"><use id="k69-0" href="#R" x="84"/><use id="k69-1" href="#R" x="136"/><use id="k69-2" href="#R" x="188"/><use id="k69-3" href="#R" x="240"/><use id="k69-4" href="#R" x="292"/><use id="k69-5" href="#R" x="344" class="m"/><use id="k69-6" href="#R" x="396" class="m"/><use id="k69-7" href="#R" x="448"/><use id="k69-8" href="#R" x="500"/><use id="k69-9" href="#R" x="552"/><use id="k69-10" href="#R" x="604"/><use id="k69-11" href="#R" x="656"/></g>
<g id="row70" transform="translate(0,3650)"><use id="k70-0" href="#L" x="84"/><use id="k70-1" href="#L" x="136"/><use id="k70-2" href="#L" x="188"/><use id="k70-3" href="#L" x="240"/><use id="k70-4" href="#L" x="292"/><use id="k70-5" href="#L" x="344" class="m"/><use id="k70-6" href="#L" x="396" class="m"/><use id="k70-7" href="#L" x="448"/><use id="k70-8" href="#L" x="500"/><use id="k70-9" href="#L" x="552"/><use id="k70-10" href="#L" x="604"/><use id="k70-11" href="#L" x="656"/></g>
<g id="row71" transform="translate(0,3702)"><use id="k71-0" href="#R" x="84"/><use id="k71-1" href="#R" x="136"/><use id="k71-2" href="#R" x="188"/><use id="k71-3" href="#R" x="240"/><use id="k71-4" href="#R" x="292"/><use id="k71-5" href="#R" x="344" class="m"/><use id="k71-6" href="#R" x="396" class="m"/><use id="k71-7" href="#R" x="448"/><use id="k71-8" href="#R" x="500"/><use id="k71-9" href="#R" x="552"/><use id="k71-10" href="#R" x="604"/><use id="k71-11" href="#R" x="656"/></g>
<g id="row72" transform="translate(0,3754)"><use id="k72-0" href="#L" x="84"/><use id="k72-1" href="#L" x="136"/><use id="k72-2" href="#L" x="188"/><use id="k72-3" href="#L" x="240"/><use id="k72-4" href="#L" x="292"/><use id="k72-5" href="#L" x="344" class="m"/><use id="k72-6" href="#L" x="396" class="m"/><use id="k72-7" href="#L" x="448"/><use id="k72-8" href="#L" x="500"/><use id="k72-9" href="#L" x="552"/><use id="k72-10" href="#L" x="604"/><use id="k72-11" href="#L" x="656"/></g>
<g id="row73" transform="translate(0,3806)"><use id="k73-0" href="#R" x="84"/><use id="k73-1" href="#R" x="136"/><use id="k73-2" href="#R" x="188"/><use id="k73-3" href="#R" x="240"/><use id="k73-4" href="#R" x="292"/><use id="k73-5" href="#R" x="344" class="m"/><use id="k73-6" href="#R" x="396" class="m"/><use id="k73-7" href="#R" x="448"/><use id="k73-8" href="#R" x="500"/><use id="k73-9" href="#R" x="552"/><use id="k73-10" href="#R" x="604"/><use id="k73-11" href="#R" x="656"/></g>
<g id="row74" transform="translate(0,3858)"><use id="k74-0" href="#L" x="84"/><use id="k74-1" href="#L" x="136"/><use id="k74-2" href="#L" x="188"/><use id="k74-3" href="#L" x="240"/><use id="k74-4" href="#L" x="292"/><use id="k74-5" href="#L" x="344" class="m"/><use id="k74-6" href="#L" x="396" class="m"/><use id="k74-7" href="#L" x="448"/><use id="k74-8" href="#L" x="500"/><use id="k74-9" href="#L" x="552"/><use id="k74-10" href="#L" x="604"/><use id="k74-11" href="#L" x="656"/></g>
<g id="row75" transform="translate(0,3910)"><use id="k75-0" href="#R" x="84"/><use id="k75-1" href="#R" x="136"/><use id="k75-2" href="#R" x="188"/><use id="k75-3" href="#R" x="240"/><use id="k75-4" href="#R" x="292"/><use id="k75-5" href="#R" x="344" class="m"/><use id="k75-6" href="#R" x="396" class="m"/><use id="k75-7" href="#R" x="448"/><use id="k75-8" href="#R" x="500"/><use id="k75-9" href="#R" x="552"/><use id="k75-10" href="#R" x="604"/><use id="k75-11" href="#R" x="656"/></g>
<g id="row76" transform="translate(0,3962)"><use id="k76-0" href="#L" x="84"/><use id="k76-1" href="#L" x="136"/><use id="k76-2" href="#L" x="188"/><use id="k76-3" href="#L" x="240"/><use id="k76-4" href="#L" x="292"/><use id="k76-5" href="#L" x="344" class="m"/><use id="k76-6" href="#L" x="396" class="m"/><use id="k76-7" href="#L" x="448"/><use id="k76-8" href="#L" x="500"/><use id="k76-9" href="#L" x="552"/><use id="k76-10" href="#L" x="604"/><use id="k76-11" href="#L" x="656"/></g>
<g id="row77" transform="translate(0,4014)"><use id="k77-0" href="#R" x="84"/><use id="k77-1" href="#R" x="136"/><use id="k77-2" href="#R" x="188"/><use id="k77-3" href="#R" x="240"/><use id="k77-4" href="#R" x="292"/><use id="k77-5" href="#R" x="344" class="m"/><use id="k77-6" href="#R" x="396" class="m"/><use id="k77-7" href="#R" x="448"/><use id="k77-8" href="#R" x="500"/><use id="k77-9" href="#R" x="552"/><use id="k77-10" href="#R" x="604"/><use id="k77-11" href="#R" x="656"/></g>
<g id="row78" transform="translate(0,4066)"><use id="k78-0" href="#L" x="84"/><use id="k78-1" href="#L" x="136"/><use id="k78-2" href="#L" x="188"/><use id="k78-3" href="#L" x="240"/><use id="k78-4" href="#L" x="292"/><use id="k78-5" href="#L" x="344" class="m"/><use id="k78-6" href="#L" x="396" class="m"/><use id="k78-7" href="#L" x="448"/><use id="k78-8" href="#L" x="500"/><use id="k78-9" href="#L" x="552"/><use id="k78-10" href="#L" x="604"/><use id="k78-11" href="#L" x="656"/></g>
<g id="row79" transform="translate(0,4118)"><use id="k79-0" href="#R" x="84"/><use id="k79-1" href="#R" x="136"/><use id="k79-2" href="#R" x="188"/><use id="k79-3" href="#R" x="240"/><use id="k79-4" href="#R" x="292"/><use id="k79-5" href="#R" x="344" class="m"/><use id="k79-6" href="#R" x="396" class="m"/><use id="k79-7" href="#R" x="448"/><use id="k79-8" href="#R" x="500"/><use id="k79-9" href="#R" x="552"/><use id="k79-10" href="#R" x="604"/><use id="k79-11" href="#R" x="656"/></g>
<g id="row80" transform="translate(0,4170)"><use id="k80-0" href="#L" x="84"/><use id="k80-1" href="#L" x="136"/><use id="k80-2" href="#L" x="188"/><use id="k80-3" href="#L" x="240"/><use id="k80-4" href="#L" x="292"/><use id="k80-5" href="#L" x="344" class="m"/><use id="k80-6" href="#L" x="396" class="m"/><use id="k80-7" href="#L" x="448"/><use id="k80-8" href="#L" x="500"/><use id="k80-9" href="#L" x="552"/><use id="k80-10" href="#L" x="604"/><use id="k80-11" href="#L" x="656"/></g>
<g id="row81" transform="translate(0,4222)"><use id="k81-0" href="#R" x="84"/><use id="k81-1" href="#R" x="136"/><use id="k81-2" href="#R" x="188"/><use id="k81-3" href="#R" x="240"/><use id="k81-4" href="#R" x="292"/><use id="k81-5" href="#R" x="344" class="m"/><use id="k81-6" href="#R" x="396" class="m"/><use id="k81-7" href="#R" x="448"/><use id="k81-8" href="#R" x="500"/><use id="k81-9" href="#R" x="552"/><use id="k81-10" href="#R" x="604"/><use id="k81-11" href="#R" x="656"/></g>
<g id="row82" transform="translate(0,4274)"><use id="k82-0" href="#L" x="84"/><use id="k82-1" href="#L" x="136"/><use id="k82-2" href="#L" x="188"/><use id="k82-3" href="#L" x="240"/><use id="k82-4" href="#L" x="292"/><use id="k82-5" href="#L" x="344" class="m"/><use id="k82-6" href="#L" x="396" class="m"/><use id="k82-7" href="#L" x="448"/><use id="k82-8" href="#L" x="500"/><use id="k82-9" href="#L" x="552"/><use id="k82-10" href="#L" x="604"/><use id="k82-11" href="#L" x="656"/></g>
<g id="row83" transform="translate(0,4326)"><use id="k83-0" href="#R" x="84"/><use id="k83-1" href="#R" x="136"/><use id="k83-2" href="#R" x="188"/><use id="k83-3" href="#R" x="240"/><use id="k83-4" href="#R" x="292"/><use id="k83-5" href="#R" x="344" class="m"/><use id="k83-6" href="#R" x="396" class="m"/><use id="k83-7" href="#R" x="448"/><use id="k83-8" href="#R" x="500"/><use id="k83-9" href="#R" x="552"/><use id="k83-10" href="#R" x="604"/><use id="k83-11" href="#R" x="656"/></g>
<g id="row84" transform="translate(0,4378)"><use id="k84-0" href="#L" x="84"/><use id="k84-1" href="#L" x="136"/><use id="k84-2" href="#L" x="188"/><use id="k84-3" href="#L" x="240"/><use id="k84-4" href="#L" x="292"/><use id="k84-5" href="#L" x="344" class="m"/><use id="k84-6" href="#L" x="396" class="m"/><use id="k84-7" href="#L" x="448"/><use id="k84-8" href="#L" x="500"/><use id="k84-9" href="#L" x="552"/><use id="k84-10" href="#L" x="604"/><use id="k84-11" href="#L" x="656"/></g>
<g id="row85" transform="translate(0,4430)"><use id="k85-0" href="#R" x="84"/><use id="k85-1" href="#R" x="136"/><use id="k85-2" href="#R" x="188"/><use id="k85-3" href="#R" x="240"/><use id="k85-4" href="#R" x="292"/><use id="k85-5" href="#R" x="344" class="m"/><use id="k85-6" href="#R" x="396" class="m"/><use id="k85-7" href="#R" x="448"/><use id="k85-8" href="#R" x="500"/><use id="k85-9" href="#R" x="552"/><use id="k85-10" href="#R" x="604"/><use id="k85-11" href="#R" x="656"/></g>
<g id="row86" transform="translate(0,4482)"><use id="k86-0" href="#L" x="84"/><use id="k86-1" href="#L" x="136"/><use id="k86-2" href="#L" x="188"/><use id="k86-3" href="#L" x="240"/><use id="k86-4" href="#L" x="292"/><use id="k86-5" href="#L" x="344" class="m"/><use id="k86-6" href="#L" x="396" class="m"/><use id="k86-7" href="#L" x="448"/><use id="k86-8" href="#L" x="500"/><use id="k86-9" href="#L" x="552"/><use id="k86-10" href="#L" x="604"/><use id="k86-11" href="#L" x="656"/></g>
<g id="row87" transform="translate(0,4534)"><use id="k87-0" href="#R" x="84"/><use id="k87-1" href="#R" x="136"/><use id="k87-2" href="#R" x="188"/><use id="k87-3" href="#R" x="240"/><use id="k87-4" href="#R" x="292"/><use id="k87-5" href="#R" x="344" class="m"/><use id="k87-6" href="#R" x="396" class="m"/><use id="k87-7" href="#R" x="448"/><use id="k87-8" href="#R" x="500"/><use id="k87-9" href="#R" x="552"/><use id="k87-10" href="#R" x="604"/><use id="k87-11" href="#R" x="656"/></g>
<g id="row88" transform="translate(0,4586)"><use id="k88-0" href="#L" x="84"/><use id="k88-1" href="#L" x="136"/><use id="k88-2" href="#L" x="188"/><use id="k88-3" href="#L" x="240"/><use id="k88-4" href="#L" x="292"/><use id="k88-5" href="#L" x="344"/><use id="k88-6" href="#L" x="396"/><use id="k88-7" href="#L" x="448"/><use id="k88-8" href="#L" x="500"/><use id="k88-9" href="#L" x="552"/><use id="k88-10" href="#L" x="604"/><use id="k88-11" href="#L" x="656"/></g>
</g>
<g id="labels-left" class="lb le">
<text x="21.5" y="66.5">1</text><text x="21.5" y="118.5">2</text><text x="21.5" y="170.5">3</text><text x="21.5" y="222.5">4</text><text x="21.5" y="274.5">5</text><text x="21.5" y="326.5">6</text><text x="21.5" y="378.5">7</text><text x="21.5" y="430.5">8</text><text x="21.5" y="482.5">9</text><text x="21.5" y="534.5">10</text>
<text x="21.5" y="586.5">11</text><text x="21.5" y="638.5">12</text><text x="21.5" y="690.5">13</text><text x="21.5" y="742.5">14</text><text x="21.5" y="794.5">15</text><text x="21.5" y="846.5">16</text><text x="21.5" y="898.5">17</text><text x="21.5" y="950.5">18</text><text x="21.5" y="1002.5">19</text><text x="21.5" y="1054.5">20</text>
<text x="21.5" y="1106.5">21</text><text x="21.5" y="1158.5">22</text><text x="21.5" y="1210.5">23</text><text x="21.5" y="1262.5">24</text><text x="21.5" y="1314.5">25</text><text x="21.5" y="1366.5">26</text><text x="21.5" y="1418.5">27</text><text x="21.5" y="1470.5">28</text><text x="21.5" y="1522.5">29</text><text x="21.5" y="1574.5">30</text>
<text x="21.5" y="1626.5">31</text><text x="21.5" y="1678.5">32</text><text x="21.5" y="1730.5">33</text><text x="21.5" y="1782.5">34</text><text x="21.5" y="1834.5">35</text><text x="21.5" y="1886.5">36</text><text x="21.5" y="1938.5">37</text><text x="21.5" y="1990.5">38</text><text x="21.5" y="2042.5">39</text><text x="21.5" y="2094.5">40</text>
<text x="21.5" y="2146.5">41</text><text x="21.5" y="2198.5">42</text><text x="21.5" y="2250.5">43</text><text x="21.5" y="2302.5">44</text><text x="21.5" y="2354.5">45</text><text x="21.5" y="2406.5">46</text><text x="21.5" y="2458.5">47</text><text x="21.5" y="2510.5">48</text><text x="21.5" y="2562.5">49</text><text x="21.5" y="2614.5">50</text>
<text x="21.5" y="2666.5">51</text><text x="21.5" y="2718.5">52</text><text x="21.5" y="2770.5">53</text><text x="21.5" y="2822.5">54</text><text x="21.5" y="2874.5">55</text><text x="21.5" y="2926.5">56</text><text x="21.5" y="2978.5">57</text><text x="21.5" y="3030.5">58</text><text x="21.5" y="3082.5">59</text><text x="21.5" y="3134.5">60</text>
<text x="21.5" y="3186.5">61</text><text x="21.5" y="3238.5">62</text><text x="21.5" y="3290.5">63</text><text x="21.5" y="3342.5">64</text><text x="21.5" y="3394.5">65</text><text x="21.5" y="3446.5">66</text><text x="21.5" y="3498.5">67</text><text x="21.5" y="3550.5">68</text><text x="21.5" y="3602.5">69</text><text x="21.5" y="3654.5">70</text>
<text x="21.5" y="3706.5">71</text><text x="21.5" y="3758.5">72</text><text x="21.5" y="3810.5">73</text><text x="21.5" y="3862.5">74</text><text x="21.5" y="3914.5">75</text><text x="21.5" y="3966.5">76</text><text x="21.5" y="4018.5">77</text><text x="21.5" y="4070.5">78</text><text x="21.5" y="4122.5">79</text><text x="21.5" y="4174.5">80</text>
<text x="21.5" y="4226.5">81</text><text x="21.5" y="4278.5">82</text><text x="21.5" y="4330.5">83</text><text x="21.5" y="4382.5">84</text><text x="21.5" y="4434.5">85</text><text x="21.5" y="4486.5">86</text><text x="21.5" y="4538.5">87</text><text x="21.5" y="4590.5">88</text>
</g>
<g id="labels-right" class="lb">
<text x="718.5" y="66.5">1</text><text x="718.5" y="118.5">2</text><text x="718.5" y="170.5">3</text><text x="718.5" y="222.5">4</text><text x="718.5" y="274.5">5</text><text x="718.5" y="326.5">6</text><text x="718.5" y="378.5">7</text><text x="718.5" y="430.5">8</text><text x="718.5" y="482.5">9</text><text x="718.5" y="534.5">10</text>
<text x="718.5" y="586.5">11</text><text x="718.5" y="638.5">12</text><text x="718.5" y="690.5">13</text><text x="718.5" y="742.5">14</text><text x="718.5" y="794.5">15</text><text x="718.5" y="846.5">16</text><text x="718.5" y="898.5">17</text><text x="718.5" y="950.5">18</text><text x="718.5" y="1002.5">19</text><text x="718.5" y="1054.5">20</text>
<text x="718.5" y="1106.5">21</text><text x="718.5" y="1158.5">22</text><text x="718.5" y="1210.5">23</text><text x="718.5" y="1262.5">24</text><text x="718.5" y="1314.5">25</text><text x="718.5" y="1366.5">26</text><text x="718.5" y="1418.5">27</text><text x="718.5" y="1470.5">28</text><text x="718.5" y="1522.5">29</text><text x="718.5" y="1574.5">30</text>
<text x="718.5" y="1626.5">31</text><text x="718.5" y="1678.5">32</text><text x="718.5" y="1730.5">33</text><text x="718.5" y="1782.5">34</text><text x="718.5" y="1834.5">35</text><text x="718.5" y="1886.5">36</text><text x="718.5" y="1938.5">37</text><text x="718.5" y="1990.5">38</text><text x="718.5" y="2042.5">39</text><text x="718.5" y="2094.5">40</text>
<text x="718.5" y="2146.5">41</text><text x="718.5" y="2198.5">42</text><text x="718.5" y="2250.5">43</text><text x="718.5" y="2302.5">44</text><text x="718.5" y="2354.5">45</text><text x="718.5" y="2406.5">46</text><text x="718.5" y="2458.5">47</text><text x="718.5" y="2510.5">48</text><text x="718.5" y="2562.5">49</text><text x="718.5" y="2614.5">50</text>
<text x="718.5" y="2666.5">51</text><text x="718.5" y="2718.5">52</text><text x="718.5" y="2770.5">53</text><text x="718.5" y="2822.5">54</text><text x="718.5" y="2874.5">55</text><text x="718.5" y="2926.5">56</text><text x="718.5" y="2978.5">57</text><text x="718.5" y="3030.5">58</text><text x="718.5" y="3082.5">59</text><text x="718.5" y="3134.5">60</text>
<text x="718.5" y="3186.5">61</text><text x="718.5" y="3238.5">62</text><text x="718.5" y="3290.5">63</text><text x="718.5" y="3342.5">64</text><text x="718.5" y="3394.5">65</text><text x="718.5" y="3446.5">66</text><text x="718.5" y="3498.5">67</text><text x="718.5" y="3550.5">68</text><text x="718.5" y="3602.5">69</text><text x="718.5" y="3654.5">70</text>
<text x="718.5" y="3706.5">71</text><text x="718.5" y="3758.5">72</text><text x="718.5" y="3810.5">73</text><text x="718.5" y="3862.5">74</text><text x="718.5" y="3914.5">75</text><text x="718.5" y="3966.5">76</text><text x="718.5" y="4018.5">77</text><text x="718.5" y="4070.5">78</text><text x="718.5" y="4122.5">79</text><text x="718.5" y="4174.5">80</text>
<text x="718.5" y="4226.5">81</text><text x="718.5" y="4278.5">82</text><text x="718.5" y="4330.5">83</text><text x="718.5" y="4382.5">84</text><text x="718.5" y="4434.5">85</text><text x="718.5" y="4486.5">86</text><text x="718.5" y="4538.5">87</text><text x="718.5" y="4590.5">88</text>
</g>
<text id="watermark" x="370" y="2329" text-anchor="middle" font-family="'Liberation Sans',Arial,sans-serif" font-weight="bold" font-size="15" textLength="153" lengthAdjust="spacingAndGlyphs" fill="#3a3a3a" stroke="#e8e8e8" stroke-width="2.5" paint-order="stroke" opacity="0.92">BRACELETBOOK.COM</text>
</svg>
